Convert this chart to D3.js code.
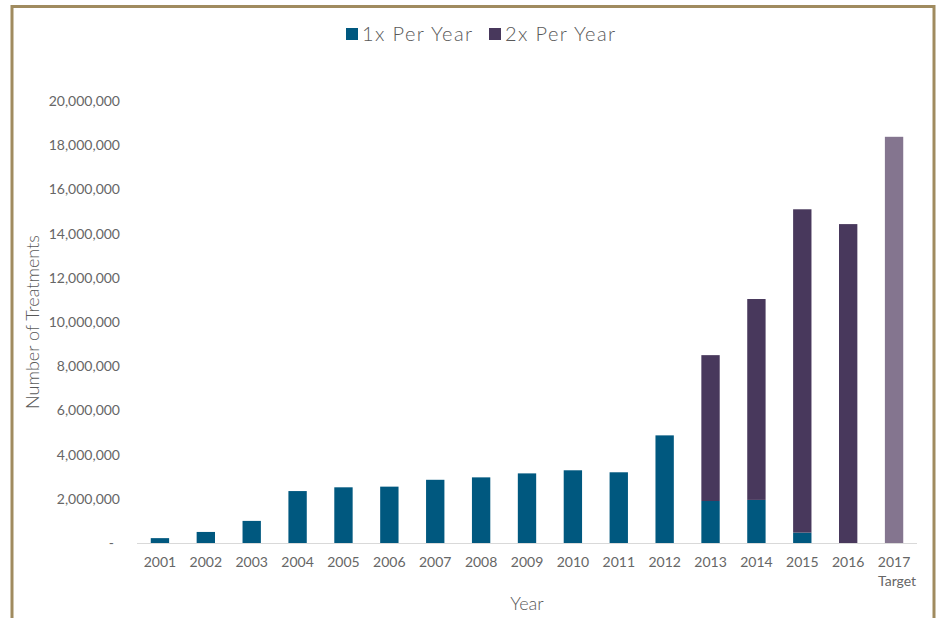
<!DOCTYPE html>
<html><head><meta charset="utf-8">
<script src="https://cdn.jsdelivr.net/npm/d3@7"></script>
<style>body{margin:0;background:#fff}svg{display:block}text{font-family:Lato,"Open Sans",sans-serif}</style>
</head><body>
<svg id="c" width="940" height="618"></svg>
<script>
const categories = ["2001","2002","2003","2004","2005","2006","2007","2008","2009","2010","2011","2012","2013","2014","2015","2016","2017"];
const subLabels = ["","","","","","","","","","","","","","","","","Target"];
const onePerYear = [220000,500000,1000000,2350000,2520000,2550000,2860000,2970000,3150000,3290000,3200000,4870000,1900000,1950000,470000,0,0];
const twoPerYear = [0,0,0,0,0,0,0,0,0,0,0,0,6600000,9090000,14630000,14430000,18380000];
const seriesNames = ["1x Per Year","2x Per Year"];
const yTicks = [0,2000000,4000000,6000000,8000000,10000000,12000000,14000000,16000000,18000000,20000000];

const colors = {one:"#00587f", two:"#48385c", target:"#84758f"};
const svg = d3.select("#c");

// frame
svg.append("path").attr("d","M12,625 L12,6.5 L934,6.5 L934,625")
  .attr("fill","none").attr("stroke","#a08b5f").attr("stroke-width",3);

const x = d3.scaleBand().domain(categories).range([137,917]).paddingInner(0.6).paddingOuter(0.3);
const y = d3.scaleLinear().domain([0,20000000]).range([543,101]);

const fmt = d3.format(",");
const yAxis = d3.axisLeft(y).tickValues(yTicks).tickSize(0).tickPadding(0)
  .tickFormat(d => d===0 ? "-" : fmt(d));
const yg = svg.append("g").attr("transform","translate(120,0)").call(yAxis);
yg.select(".domain").remove();
yg.selectAll("text").attr("fill","#666666").attr("font-size","14px").attr("font-family","Lato")
  .attr("dx", d => d===0 ? "-6" : "0");

const data = categories.map((c,i)=>({c, a:onePerYear[i], b:twoPerYear[i], target: subLabels[i]!==""}));
svg.append("g").selectAll("rect").data(data.filter(d=>d.a>0)).join("rect")
  .attr("x",d=>x(d.c)).attr("width",x.bandwidth())
  .attr("y",d=>y(d.a)).attr("height",d=>y(0)-y(d.a))
  .attr("fill",colors.one);
svg.append("g").selectAll("rect").data(data.filter(d=>d.b>0)).join("rect")
  .attr("x",d=>x(d.c)).attr("width",x.bandwidth())
  .attr("y",d=>y(d.a+d.b)).attr("height",d=>y(d.a)-y(d.a+d.b))
  .attr("fill",d=>d.target?colors.target:colors.two);

svg.append("line").attr("x1",137).attr("x2",917).attr("y1",543.5).attr("y2",543.5)
  .attr("stroke","#d9d9d9").attr("stroke-width",1);
const xAxis = d3.axisBottom(x).tickSize(0).tickPadding(0);
const xg = svg.append("g").attr("transform","translate(0,557)").call(xAxis);
xg.select(".domain").remove();
xg.selectAll("text").attr("fill","#666666").attr("font-size","14px").attr("font-family","Lato").attr("dy","0.71em");
xg.selectAll(".tick").append("text").text((d,i)=>subLabels[i])
  .attr("x",3).attr("y",19).attr("dy","0.71em").attr("fill","#666666").attr("font-size","14px").attr("font-family","Lato");

svg.append("text").attr("x",527).attr("y",610).attr("text-anchor","middle").attr("font-weight",300)
  .attr("fill","#595959").attr("font-size","18px").text("Year");
svg.append("text").attr("transform","translate(39,322) rotate(-90)").attr("text-anchor","middle").attr("font-weight",300)
  .attr("fill","#595959").attr("font-size","18px").text("Number of Treatments");

const leg = [{n:seriesNames[0],c:colors.one,x:346},{n:seriesNames[1],c:colors.two,x:489}];
const lg = svg.append("g").selectAll("g").data(leg).join("g").attr("transform",d=>`translate(${d.x},0)`);
lg.append("rect").attr("x",0).attr("y",28).attr("width",12).attr("height",12).attr("fill",d=>d.c);
lg.append("text").attr("x",16).attr("y",41).attr("fill","#595959").attr("font-size","20px").attr("font-weight",300)
  .attr("letter-spacing","1.4px").text(d=>d.n);
</script>
</body></html>
